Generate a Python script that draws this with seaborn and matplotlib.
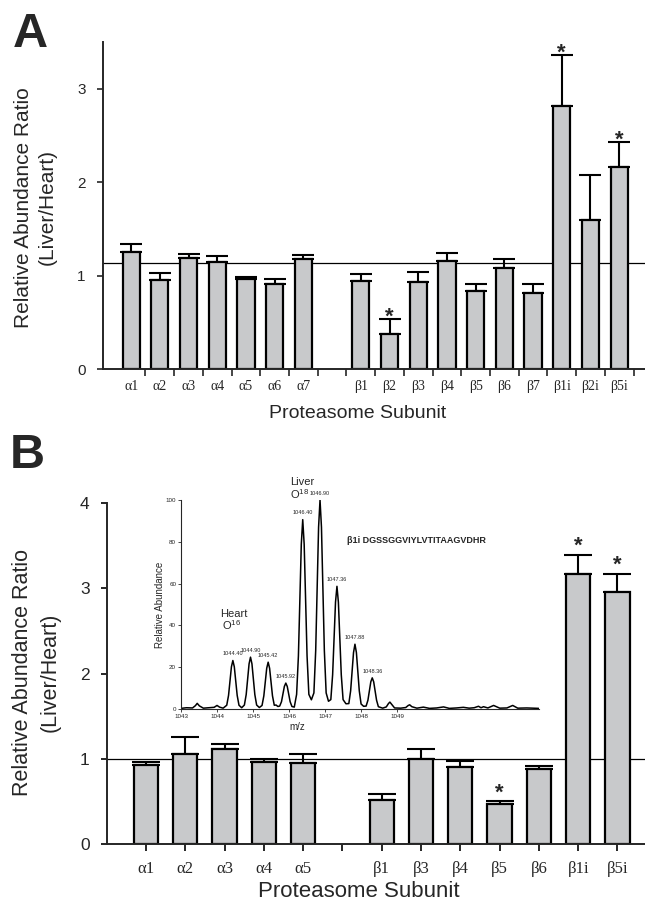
import numpy as np
import pandas as pd
import matplotlib
matplotlib.use("Agg")
import matplotlib.pyplot as plt
import seaborn as sns

# ---- Panel A data (liver / heart ratio) ----
alpha_a = ["α1", "α2", "α3", "α4", "α5", "α6", "α7"]
beta_a = ["β1", "β2", "β3", "β4", "β5", "β6", "β7", "β1i", "β2i", "β5i"]
ratio_a = [1.25, 0.95, 1.19, 1.14, 0.96, 0.91, 1.18,
           0.94, 0.37, 0.93, 1.16, 0.83, 1.08, 0.81, 2.82, 1.59, 2.16]
err_a = [0.085, 0.08, 0.045, 0.07, 0.03, 0.05, 0.043,
         0.077, 0.16, 0.104, 0.086, 0.075, 0.10, 0.10, 0.54, 0.49, 0.27]
star_a = ["β2", "β1i", "β5i"]
ref_a = 1.13

# ---- Panel B data ----
alpha_b = ["α1", "α2", "α3", "α4", "α5"]
beta_b = ["β1", "β3", "β4", "β5", "β6", "β1i", "β5i"]
ratio_b = [0.93, 1.055, 1.11, 0.965, 0.955,
           0.515, 1.0, 0.905, 0.473, 0.875, 3.17, 2.96]
err_b = [0.027, 0.20, 0.06, 0.03, 0.10,
         0.07, 0.113, 0.07, 0.03, 0.043, 0.22, 0.21]
star_b = ["β5", "β1i", "β5i"]
ref_b = 1.0

# ---- inset spectrum ----
mz = [1043.00, 1043.15, 1043.32, 1043.40, 1043.45, 1043.51, 1043.62, 1043.78, 1043.92, 1044.00,
      1044.07, 1044.17,
      1044.27, 1044.32, 1044.36, 1044.40, 1044.44, 1044.48, 1044.52, 1044.56, 1044.61,
      1044.685,
      1044.76, 1044.81, 1044.85, 1044.89, 1044.93, 1044.97, 1045.01, 1045.05, 1045.10,
      1045.175,
      1045.25, 1045.30, 1045.34, 1045.38, 1045.42, 1045.46, 1045.50, 1045.54, 1045.59,
      1045.64, 1045.69,
      1045.74, 1045.79, 1045.83, 1045.87, 1045.91, 1045.95, 1045.99, 1046.03, 1046.08,
      1046.145,
      1046.21, 1046.26, 1046.30, 1046.34, 1046.38, 1046.42, 1046.46, 1046.50, 1046.55,
      1046.62,
      1046.69, 1046.74, 1046.78, 1046.82, 1046.86, 1046.90, 1046.94, 1046.98, 1047.03,
      1047.095,
      1047.16, 1047.21, 1047.25, 1047.29, 1047.33, 1047.37, 1047.41, 1047.45, 1047.50,
      1047.58,
      1047.66, 1047.71, 1047.75, 1047.79, 1047.83, 1047.87, 1047.91, 1047.95, 1048.00,
      1048.07,
      1048.14, 1048.19, 1048.23, 1048.27, 1048.31, 1048.35, 1048.39, 1048.43, 1048.48,
      1048.60, 1048.70, 1048.76, 1048.80, 1048.85, 1048.93, 1049.10,
      1049.24, 1049.31, 1049.35, 1049.41, 1049.55, 1049.73, 1049.90, 1050.10, 1050.29, 1050.45,
      1050.65, 1050.84, 1051.00, 1051.14, 1051.26, 1051.33, 1051.40, 1051.52, 1051.68, 1051.85,
      1052.05, 1052.21, 1052.35, 1052.60, 1052.93]
abund = [0.3, 0.6, 0.5, 1.6, 2.7, 1.5, 0.4, 0.6, 0.8, 1.7,
         0.9, 0.4,
         1.8, 6.5, 13.2, 20.2, 23.2, 20.2, 13.2, 6.5, 1.8,
         0.6,
         1.9, 6.9, 14.1, 21.6, 24.8, 21.6, 14.1, 6.9, 1.9,
         0.7,
         1.7, 6.3, 12.8, 19.5, 22.4, 19.5, 12.8, 6.3, 1.8,
         1.9, 1.2,
         1.4, 3.5, 7.1, 10.8, 12.4, 10.8, 7.1, 3.5, 1.2,
         0.9,
         7.0, 25.4, 51.6, 78.8, 90.6, 78.8, 51.6, 25.4, 7.0,
         4.4,
         7.7, 28.0, 57.0, 87.0, 100.0, 87.0, 57.0, 28.0, 7.7,
         3.7,
         4.5, 16.4, 33.5, 51.1, 58.7, 51.1, 33.5, 16.4, 4.5,
         2.5,
         2.6, 8.7, 17.7, 27.0, 31.0, 27.0, 17.7, 8.7, 2.4,
         1.3,
         1.4, 4.2, 8.5, 13.0, 14.9, 13.0, 8.5, 4.2, 1.1,
         0.4, 1.0, 2.6, 3.3, 2.2, 0.5, 0.4,
         0.7, 1.7, 2.0, 1.1, 0.4, 0.9, 0.3, 0.5, 1.0, 0.3,
         0.5, 0.8, 0.4, 0.6, 1.3, 0.6, 1.1, 0.5, 1.7, 0.4,
         0.5, 1.7, 0.4, 0.5, 0.3]
peak_mz = [1044.44, 1044.93, 1045.42, 1045.91, 1046.38, 1046.86, 1047.33, 1047.83, 1048.31]
peak_h = [23.2, 24.8, 22.4, 12.4, 90.6, 100.0, 58.7, 31.0, 14.9]
peak_lab = ["1044.40", "1044.90", "1045.42", "1045.92", "1046.40",
            "1046.90", "1047.36", "1047.88", "1048.36"]

sns.set_style("ticks")
plt.rcParams["font.family"] = ["Liberation Sans", "DejaVu Sans"]
plt.rcParams["mathtext.default"] = "regular"
serif = ["Liberation Serif", "DejaVu Serif"]
bar_col = "#c8c9cb"

fig = plt.figure(figsize=(6.45, 9.01), dpi=100)
W, H = 645, 901
axA = fig.add_axes([103 / W, 1 - 369 / H, 542 / W, 327 / H])
axB = fig.add_axes([107 / W, 1 - 844 / H, 538 / W, 341 / H])
ins = fig.add_axes([181 / W, 1 - 709 / H, 358 / W, 209 / H])


def draw_panel(ax, alphas, betas, ratio, err, stars, ref, width, capsize, star_off):
    order = alphas + [" "] + betas
    labels = alphas + betas
    df = pd.DataFrame({"subunit": labels, "ratio": ratio})
    ax.axhline(ref, color="black", lw=0.9, zorder=0)
    sns.barplot(data=df, x="subunit", y="ratio", order=order, color=bar_col,
                saturation=1, edgecolor="black", linewidth=1.6, width=width,
                errorbar=None, ax=ax, zorder=2)
    pos = [order.index(s) for s in labels]
    ax.errorbar(pos, ratio, yerr=[np.zeros(len(err)), err], fmt="none",
                ecolor="black", elinewidth=1.5, capsize=capsize, capthick=1.5, zorder=1)
    for s in stars:
        i = labels.index(s)
        ax.annotate("*", (pos[i], ratio[i] + err[i]), xytext=(0, star_off),
                    textcoords="offset points", ha="center", va="center",
                    fontsize=16, fontweight="bold")
    sns.despine(ax=ax)
    for sp in ["left", "bottom"]:
        ax.spines[sp].set_linewidth(1.4)
    return order, pos


# ---- panel A ----
orderA, posA = draw_panel(axA, alpha_a, beta_a, ratio_a, err_a, star_a, ref_a, 0.6, 8, 1.5)
axA.set_xlim(-0.98, 17.9)
axA.set_ylim(0, 3.5)
axA.set_yticks([0, 1, 2, 3])
axA.tick_params(axis="y", labelsize=11, length=4.5, width=1.2, pad=8)
axA.set_xticks(np.arange(len(orderA)) + 0.5)
axA.set_xticklabels([])
axA.set_xticks(posA, minor=True)
axA.set_xticklabels(alpha_a + beta_a, minor=True, fontfamily=serif, fontsize=10)
axA.tick_params(axis="x", which="major", length=5, width=1.2)
axA.tick_params(axis="x", which="minor", length=0, pad=8)
axA.set_xlabel("Proteasome Subunit", fontsize=14, va="center")
axA.xaxis.set_label_coords(0.47, -0.135)
axA.set_ylabel("Relative Abundance Ratio\n(Liver/Heart)", fontsize=15,
               va="center", ha="center", linespacing=1.3)
axA.yaxis.set_label_coords(-0.125, 0.494)

# ---- panel B ----
orderB, posB = draw_panel(axB, alpha_b, beta_b, ratio_b, err_b, star_b, ref_b, 0.62, 10, 6)
axB.set_xlim(-0.99, 12.7)
axB.set_ylim(0, 4)
axB.set_yticks([0, 1, 2, 3, 4])
axB.tick_params(axis="y", labelsize=12.5, length=4.5, width=1.4, pad=8)
axB.set_xticks(np.arange(len(orderB)))
axB.set_xticklabels(orderB, fontfamily=serif, fontsize=12)
axB.tick_params(axis="x", length=5, width=1.4, pad=7)
axB.set_xlabel("Proteasome Subunit", fontsize=16, va="center")
axB.xaxis.set_label_coords(0.4675, -0.138)
axB.set_ylabel("Relative Abundance Ratio\n(Liver/Heart)", fontsize=15.5,
               va="center", ha="center", linespacing=1.4)
axB.yaxis.set_label_coords(-0.131, 0.503)

# ---- inset spectrum ----
ins.patch.set_alpha(0)
sns.lineplot(x=mz, y=abund, color="black", lw=1.1, estimator=None, sort=False, ax=ins)
ins.set_xlim(1043, 1052.94)
ins.set_ylim(0, 100)
ins.set_xticks(range(1043, 1050))
ins.set_yticks(range(0, 101, 20))
ins.tick_params(labelsize=4.5, length=2, width=0.6, pad=1.5)
sns.despine(ax=ins)
for sp in ["left", "bottom"]:
    ins.spines[sp].set_linewidth(0.8)
ins.set_xlabel("m/z", fontsize=7, va="center")
ins.xaxis.set_label_coords((297 - 181) / 358, -0.086)
ins.set_ylabel("Relative Abundance", fontsize=7, va="center", ha="center")
ins.yaxis.set_label_coords(-0.059, 0.5)
for x, h, t in zip(peak_mz, peak_h, peak_lab):
    ins.text(x, h + 3.2, t, fontsize=4, ha="center", va="center")
ins.text(1044.47, 45.5, "Heart", fontsize=8, ha="center", va="center")
ins.text(1044.39, 40.0, "O$^{16}$", fontsize=8, ha="center", va="center")
ins.text(1046.36, 108.6, "Liver", fontsize=8, ha="center", va="center")
ins.text(1046.30, 102.9, "O$^{18}$", fontsize=8, ha="center", va="center")
ins.text(1047.6, 80.7, "β1i DGSSGGVIYLVTITAAGVDHR", fontsize=6.5,
         fontweight="bold", ha="left", va="center")

# ---- panel letters ----
fig.text(13 / W, 1 - 47 / H, "A", fontsize=35, fontweight="bold", va="baseline")
fig.text(10 / W, 1 - 468 / H, "B", fontsize=35, fontweight="bold", va="baseline")

fig.savefig("out.png", dpi=100)
